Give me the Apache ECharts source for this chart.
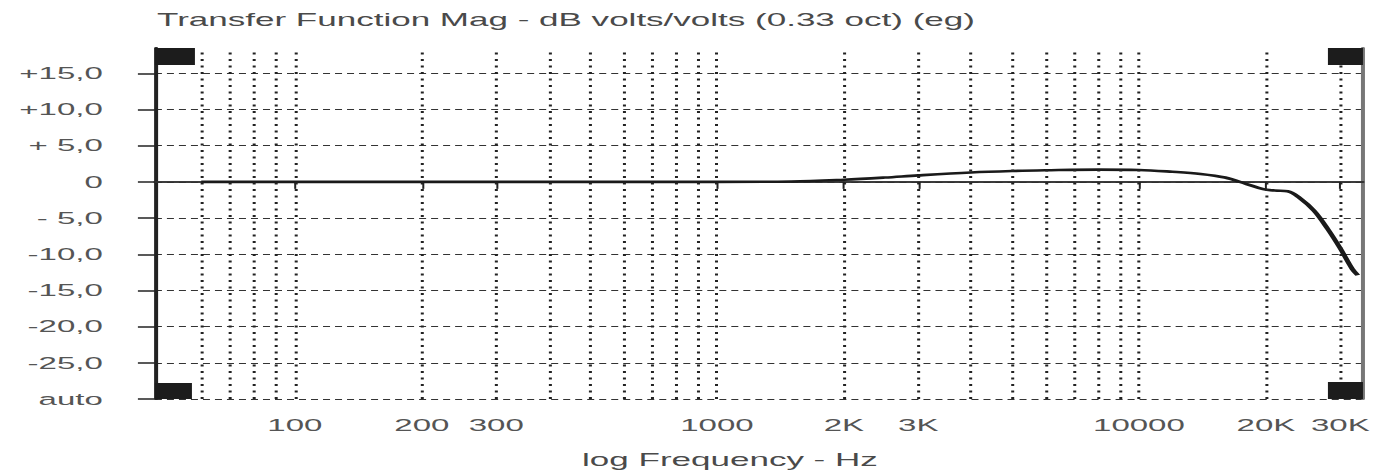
<!DOCTYPE html>
<html>
<head>
<meta charset="utf-8">
<script src="https://cdn.jsdelivr.net/npm/echarts@6/dist/echarts.min.js"></script>
<style>
  html, body { margin: 0; padding: 0; background: #ffffff; overflow: hidden; }
  #chart { width: 690px; height: 471px; transform: scaleX(2.0014); transform-origin: 0 0; }
</style>
</head>
<body>
<div id="chart"></div>
<script>
// ---- data ----
const titleText = 'Transfer Function Mag - dB volts/volts (0.33 oct) (eg)';
const xAxisTitle = 'log Frequency - Hz';
const freqHz = [60, 100, 200, 500, 1000, 1500, 2000, 2500, 3000, 4000, 5000, 6000, 8000, 10000, 12000, 14000, 16000, 18000, 19700, 21000, 22500, 24000, 26000, 28000, 30000, 32000, 33000];
const magDb  = [0, 0, 0, 0, 0, 0.05, 0.3, 0.6, 0.9, 1.3, 1.5, 1.6, 1.7, 1.65, 1.4, 1.1, 0.6, -0.3, -1.0, -1.2, -1.3, -2.2, -4.0, -6.5, -9.2, -12.0, -12.9];
const xTickValues = [100, 200, 300, 1000, 2000, 3000, 10000, 20000, 30000];
const xGridValues = [60, 70, 80, 90, 100, 200, 300, 400, 500, 600, 700, 800, 900, 1000, 2000, 3000, 4000, 5000, 6000, 7000, 8000, 9000, 10000, 20000, 30000];
const yTickValues = [-30, -25, -20, -15, -10, -5, 0, 5, 10, 15];

const X_MIN = 46.6, X_MAX = 33950, Y_MIN = -30, Y_MAX = 18.5;

function xLabel(v) {
  if (v >= 2000 && v !== 10000) return (v / 1000) + 'K';
  return String(v);
}
function yLabel(v) {
  if (v === -30) return 'auto';
  if (Math.abs(v % 5) > 1e-9) return '';
  if (v === 0) return '0';
  const a = Math.abs(v);
  const sign = v > 0 ? '+' : '-';
  return sign + (a < 10 ? ' ' : '') + a + ',0';
}

const chart = echarts.init(document.getElementById('chart'), null, { renderer: 'svg' });
const FONT = 'Liberation Sans, Arial, sans-serif';

chart.setOption({
  backgroundColor: '#ffffff',
  animation: false,
  title: {
    text: titleText, left: 78.5, top: 11, padding: 0,
    textStyle: { fontSize: 17.5, fontWeight: 'normal', color: '#4a4a4a', fontFamily: FONT }
  },
  grid: { left: 77.4, right: 9, top: 48, bottom: 72, outerBoundsMode: 'none' },
  xAxis: [{
    type: 'log', logBase: 10, min: X_MIN, max: X_MAX,
    name: xAxisTitle, nameLocation: 'middle', nameGap: 52,
    nameTextStyle: { fontSize: 17.5, color: '#4a4a4a', fontFamily: FONT, padding: [0, 29, 0, 0] },
    axisLine: { show: true, lineStyle: { color: '#222', width: 1.5 } },
    axisTick: { show: true, customValues: xTickValues, length: 7, lineStyle: { color: '#222', width: 1 } },
    axisLabel: { show: true, customValues: xTickValues, formatter: xLabel, margin: 18, fontSize: 16.5, color: '#555', fontFamily: FONT },
    splitLine: { show: false },
    minorTick: { show: false }
  }, {
    type: 'log', logBase: 10, min: X_MIN, max: X_MAX, position: 'top',
    axisLine: { show: true, lineStyle: { color: '#333', width: 1.5 } },
    axisTick: { show: false }, axisLabel: { show: false }, splitLine: { show: false }
  }],
  yAxis: [{
    type: 'value', min: Y_MIN, max: Y_MAX,
    axisLine: { show: true, lineStyle: { color: '#222', width: 2 } },
    axisTick: { show: true, customValues: yTickValues, length: 8.5, lineStyle: { color: '#222', width: 1.5 } },
    axisLabel: { show: true, customValues: yTickValues, formatter: yLabel, margin: 26, fontSize: 16.5, color: '#555', fontFamily: FONT },
    splitLine: { show: true, lineStyle: { color: '#333', width: 1.2, type: [3.5, 2.5] } }
  }, {
    type: 'value', min: Y_MIN, max: Y_MAX, position: 'right',
    axisLine: { show: true, lineStyle: { color: '#777', width: 2 } },
    axisTick: { show: false }, axisLabel: { show: false }, splitLine: { show: false }
  }],
  series: [{
    type: 'line', data: [], z: 1, silent: true,
    markLine: {
      silent: true, symbol: ['none', 'none'], animation: false,
      label: { show: false },
      lineStyle: { color: '#222', width: 1.5, type: [2, 4.5] },
      data: xGridValues.map(v => ({ xAxis: v }))
    }
  }, {
    type: 'line', z: 3,
    data: freqHz.map((f, i) => [f, magDb[i]]),
    showSymbol: false, smooth: 0.35,
    lineStyle: { color: '#1a1a1a', width: 2.6 }
  }]
});

// decorative black corner blocks of the plot frame
const tl = chart.convertToPixel({ gridIndex: 0 }, [X_MIN, Y_MAX]);
const br = chart.convertToPixel({ gridIndex: 0 }, [X_MAX, Y_MIN]);
chart.setOption({
  graphic: [
    { type: 'rect', shape: { x: tl[0], y: tl[1], width: 20, height: 17 }, style: { fill: '#1c1c1c' }, z: 10 },
    { type: 'rect', shape: { x: tl[0], y: br[1] - 16, width: 18.5, height: 16 }, style: { fill: '#1c1c1c' }, z: 10 },
    { type: 'rect', shape: { x: br[0] - 17.5, y: tl[1], width: 17.5, height: 17 }, style: { fill: '#1c1c1c' }, z: 10 },
    { type: 'rect', shape: { x: br[0] - 17.5, y: br[1] - 17, width: 17.5, height: 17 }, style: { fill: '#1c1c1c' }, z: 10 }
  ]
});
</script>
</body>
</html>
